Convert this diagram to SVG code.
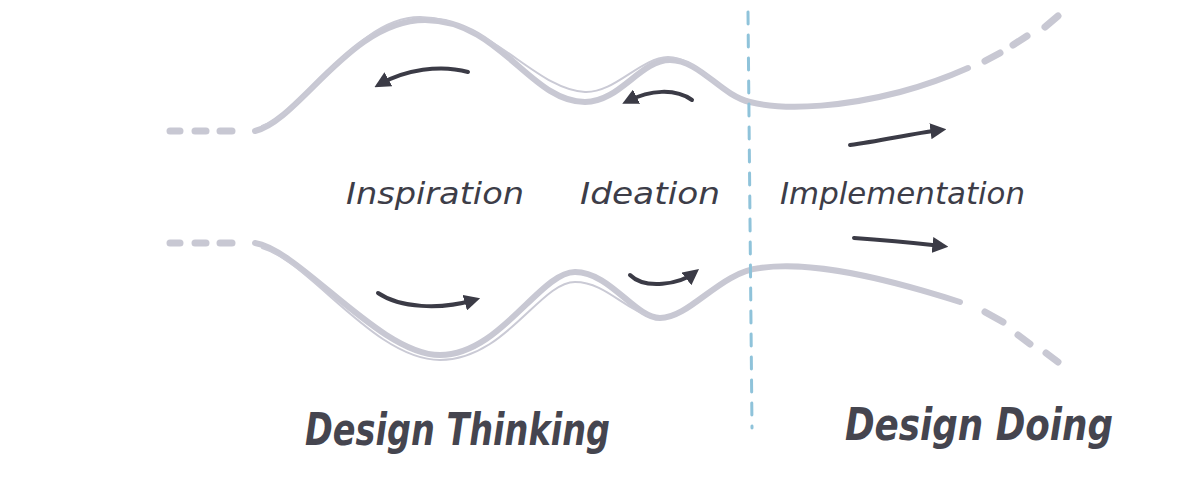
<svg xmlns="http://www.w3.org/2000/svg" width="1200" height="482" viewBox="0 0 1200 482">
<style>
.thick{fill:none;stroke:#c8c8d3;stroke-width:6;stroke-linecap:round}
.thin{fill:none;stroke:#cacad5;stroke-width:2;stroke-linecap:round}
.dash{fill:none;stroke:#c8c8d3;stroke-width:7;stroke-linecap:round}
.arr{fill:none;stroke:#3b3b46;stroke-width:4;stroke-linecap:round}
.lbl{font-family:"DejaVu Sans",sans-serif;font-style:italic;fill:#3d3d48;font-size:30px}
.big{font-family:"DejaVu Sans",sans-serif;font-style:italic;font-weight:bold;fill:#45454f;font-size:44px}
</style>
<defs>
<marker id="ah" viewBox="0 0 10 10" refX="6" refY="5" markerWidth="4" markerHeight="4" orient="auto" markerUnits="strokeWidth">
<path d="M0,0 L10,5 L0,10 Z" fill="#3b3b46"/>
</marker>
</defs>
<rect width="1200" height="482" fill="#ffffff"/>
<g id="funnel">
<path class="thick" d="M255,131 C300,120 350,20 425,20 C500,20 530,102 585,102 C620,102 640,60 670,60 C700,60 720,95 750,102 C790,112 850,105 900,92 C930,84 950,76 968,68"/>
<path class="thin" d="M262,126 C310,110 355,17 420,17 C490,18 535,90 585,92 C615,93 640,58 668,57 C690,57 710,80 730,92"/>
<path class="dash" d="M170,131 L180,131 M195,131 L206,131 M220,131 L232,131"/>
<path class="dash" d="M985,61 L1000,53 M1013,45 L1027,36 M1045,27 L1058,16"/>
<path class="thick" d="M255,243 C300,250 380,355 440,355 C500,355 540,272 575,272 C610,272 635,318 660,318 C690,318 720,272 760,268 C800,262 860,270 960,302"/>
<path class="thin" d="M262,248 C310,262 375,360 440,360 C505,360 540,282 575,282 C605,282 625,310 650,316"/>
<path class="dash" d="M170,243 L180,243 M195,243 L206,243 M220,243 L232,243"/>
<path class="dash" d="M985,312 L1003,322 M1018,335 L1030,344 M1046,353 L1058,362"/>
</g>
<g id="divider">
<path d="M748,12 L752,428" fill="none" stroke="#8fc3da" stroke-width="3" stroke-dasharray="12 11" stroke-linecap="round"/>
</g>
<g id="connectors">
<path class="arr" d="M468,72 C440,64 405,70 380,84" marker-end="url(#ah)"/>
<path class="arr" d="M692,100 C675,88 650,90 628,101" marker-end="url(#ah)" stroke-width="5"/>
<path class="arr" d="M850,145 C880,141 910,134 940,130" marker-end="url(#ah)"/>
<path class="arr" d="M854,238 C885,240 915,243 942,246" marker-end="url(#ah)"/>
<path class="arr" d="M378,293 C400,308 440,310 474,300" marker-end="url(#ah)"/>
<path class="arr" d="M630,275 C645,290 680,284 694,273" marker-end="url(#ah)" stroke-width="5"/>
</g>
<g id="inspiration"><text class="lbl" x="346" y="204" textLength="178" lengthAdjust="spacingAndGlyphs">Inspiration</text></g>
<g id="ideation"><text class="lbl" x="580" y="204" textLength="140" lengthAdjust="spacingAndGlyphs">Ideation</text></g>
<g id="implementation"><text class="lbl" x="780" y="204" textLength="245" lengthAdjust="spacingAndGlyphs">Implementation</text></g>
<g id="design-thinking"><text class="big" x="305" y="445" textLength="305" lengthAdjust="spacingAndGlyphs">Design Thinking</text></g>
<g id="design-doing"><text class="big" x="845" y="440" textLength="268" lengthAdjust="spacingAndGlyphs">Design Doing</text></g>
</svg>
